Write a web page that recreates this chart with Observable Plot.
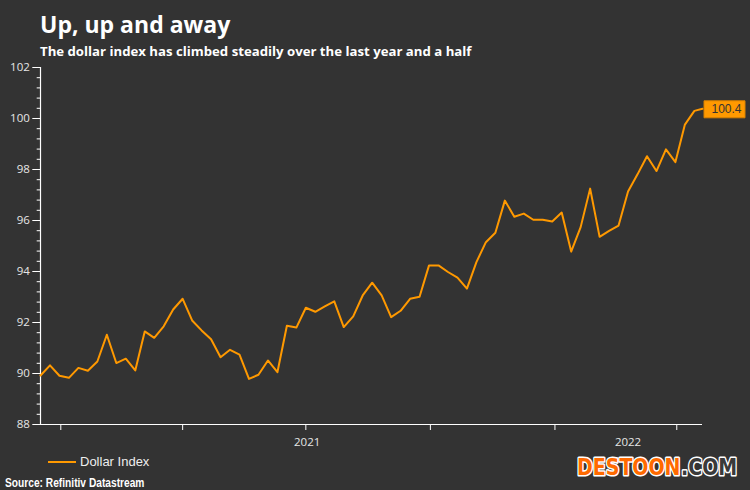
<!DOCTYPE html>
<html>
<head>
<meta charset="utf-8">
<script src="https://cdn.jsdelivr.net/npm/d3@7"></script>
<script src="https://cdn.jsdelivr.net/npm/@observablehq/plot@0.6"></script>
<style>
  html, body { margin: 0; padding: 0; background: #333333; }
  #page { position: relative; width: 750px; height: 490px; background: #333333; overflow: hidden; }
  .abs { position: absolute; white-space: nowrap; line-height: 1; }
  #title { left: 40px; top: 8px; font: 700 23px "Open Sans", sans-serif; color: #ffffff; }
  #subtitle { left: 40px; top: 42px; font: 700 13.2px "Open Sans", sans-serif; color: #ffffff; }
  #chart { position: absolute; left: 0; top: 60px; }
  #legend { left: 48px; top: 454px; font: 13px "Liberation Sans", Arial, sans-serif; color: #eeeeee; display: flex; align-items: center; }
  #legend .swatch { width: 28px; height: 2px; background: #ff9900; margin-right: 4px; }
  #source { left: 5px; top: 476px; font: 700 12px "Liberation Sans", Arial, sans-serif; color: #ffffff; transform: scaleX(0.85); transform-origin: 0 0; }
  #mark { position: absolute; left: 574px; top: 452px; }
</style>
</head>
<body>
<div id="page">
  <div id="title" class="abs">Up, up and away</div>
  <div id="subtitle" class="abs">The dollar index has climbed steadily over the last year and a half</div>
  <div id="chart"></div>
  <div id="legend" class="abs"><span class="swatch"></span><span>Dollar Index</span></div>
  <div id="source" class="abs">Source: Refinitiv Datastream</div>
  <svg id="mark" width="172" height="32">
    <g transform="scale(1,1.2)" style="font: 700 19px 'DejaVu Sans', sans-serif; paint-order: stroke; stroke: #ffffff; stroke-width: 2.6px; stroke-linejoin: round;">
      <text x="3" y="19.2" fill="#ff6a00">DESTOON</text>
      <text x="107" y="19.2" fill="#3a3a3a">.COM</text>
    </g>
  </svg>
</div>
<script>
// Weekly observations (Thursdays), last point is the latest reading
const dates = [
  "2020-12-17","2020-12-24","2020-12-31",
  "2021-01-07","2021-01-14","2021-01-21","2021-01-28",
  "2021-02-04","2021-02-11","2021-02-18","2021-02-25",
  "2021-03-04","2021-03-11","2021-03-18","2021-03-25",
  "2021-04-01","2021-04-08","2021-04-15","2021-04-22","2021-04-29",
  "2021-05-06","2021-05-13","2021-05-20","2021-05-27",
  "2021-06-03","2021-06-10","2021-06-17","2021-06-24",
  "2021-07-01","2021-07-08","2021-07-15","2021-07-22","2021-07-29",
  "2021-08-05","2021-08-12","2021-08-19","2021-08-26",
  "2021-09-02","2021-09-09","2021-09-16","2021-09-23","2021-09-30",
  "2021-10-07","2021-10-14","2021-10-21","2021-10-28",
  "2021-11-04","2021-11-11","2021-11-18","2021-11-25",
  "2021-12-02","2021-12-09","2021-12-16","2021-12-23","2021-12-30",
  "2022-01-06","2022-01-13","2022-01-20","2022-01-27",
  "2022-02-03","2022-02-10","2022-02-17","2022-02-24",
  "2022-03-03","2022-03-10","2022-03-17","2022-03-24","2022-03-31",
  "2022-04-07","2022-04-14","2022-04-20"
];
const dollarIndex = [
  89.92, 90.32, 89.91,
  89.83, 90.22, 90.11, 90.47,
  91.52, 90.41, 90.58, 90.12,
  91.65, 91.40, 91.85, 92.51,
  92.93, 92.08, 91.69, 91.34, 90.64,
  90.93, 90.74, 89.79, 89.95,
  90.51, 90.05, 91.87, 91.80,
  92.58, 92.42, 92.63, 92.83, 91.82,
  92.24, 93.06, 93.56, 93.06,
  92.21, 92.46, 92.93, 93.01, 94.24,
  94.24, 93.98, 93.76, 93.33,
  94.37, 95.15, 95.52, 96.78,
  96.15, 96.27, 96.03, 96.03, 95.96,
  96.31, 94.78, 95.74, 97.25,
  95.36, 95.59, 95.80, 97.14,
  97.81, 98.52, 97.94, 98.79, 98.29,
  99.76, 100.30, 100.38
];
const yMajorTicks = [88, 90, 92, 94, 96, 98, 100, 102];
const yMinorTicks = d3.range(88, 102.001, 0.4);
const xTickDates = ["2021-01-01","2021-04-01","2021-07-01","2021-10-01","2022-01-01","2022-04-01"];
const yearLabels = ["2021", "2022"];
const yearLabelDates = ["2021-07-02", "2022-02-24"];

const data = dates.map((d, i) => ({date: new Date(d), value: dollarIndex[i]}));
const last = data[data.length - 1];
const xTicks = xTickDates.map(d => new Date(d));
const yearMid = yearLabelDates.map(d => new Date(d));

const boxSymbol = {
  draw(ctx) { ctx.rect(1.5, -8, 41, 17); }
};

const chart = Plot.plot({
  width: 750,
  height: 394,
  marginTop: 7,
  marginBottom: 30,
  marginLeft: 40,
  marginRight: 48,
  style: {background: "transparent", color: "#ffffff", fontFamily: "'Open Sans', sans-serif", fontSize: "11.5px", overflow: "visible"},
  x: {type: "utc", domain: [data[0].date, last.date], label: null},
  y: {domain: [88, 102], label: null},
  marks: [
    Plot.axisY(yMinorTicks, {tickSize: 3.3, tickFormat: () => "", stroke: "#ffffff", label: null}),
    Plot.axisY(yMajorTicks, {tickSize: 7.7, tickPadding: 3, stroke: "#ffffff", color: "#e6e6e6", label: null}),
    Plot.axisX(xTicks, {tickSize: 6, tickFormat: () => "", stroke: "#ffffff", label: null}),
    Plot.axisX(yearMid, {tickSize: 0, tickPadding: 13, color: "#e6e6e6", label: null,
      tickFormat: d => yearLabels[yearMid.findIndex(m => +m === +d)]}),
    Plot.ruleX([data[0].date], {stroke: "#ffffff", strokeWidth: 1.2}),
    Plot.ruleY([88], {stroke: "#ffffff", strokeWidth: 1.2}),
    Plot.line(data, {x: "date", y: "value", stroke: "#ff9900", strokeWidth: 2}),
    Plot.dot([last], {x: "date", y: "value", symbol: boxSymbol, fill: "#ff9900", stroke: "#d98200", strokeWidth: 1}),
    Plot.text([last], {x: "date", y: "value", text: d => d.value.toFixed(1), dx: 24, dy: 0.5,
      fill: "#333333", fontSize: 12, fontFamily: "'Liberation Sans', Arial, sans-serif"})
  ]
});
document.getElementById("chart").appendChild(chart);
</script>
</body>
</html>
